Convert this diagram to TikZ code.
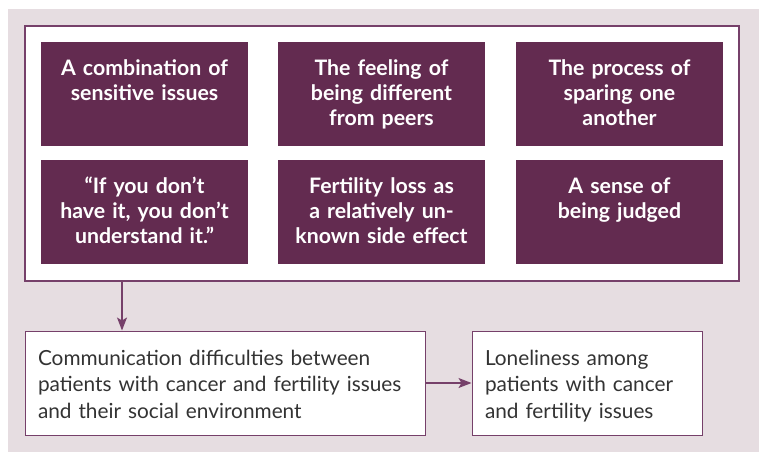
\documentclass[tikz,border=0pt]{standalone}
\usepackage{fontspec}
\setmainfont{Lato}
\usetikzlibrary{arrows.meta}
\definecolor{plum}{HTML}{632B50}
\definecolor{plumLine}{HTML}{76406A}
\definecolor{mist}{HTML}{E6DDE1}
\definecolor{ink}{HTML}{333333}
\begin{document}
\begin{tikzpicture}[x=1pt, y=-1pt,
    themeStyle/.style={rectangle, fill=plum, text=white, font=\fontsize{21.3}{25}\selectfont\bfseries, inner sep=0pt, text width=207pt, align=center, text height=33pt, text depth=71pt},
    outcomeStyle/.style={rectangle, draw=plumLine, fill=white, text=ink, line width=1pt, font=\fontsize{20.8}{26.5}\selectfont, inner xsep=13pt, inner ysep=0pt, align=left, text height=34pt, text depth=70pt},
    flowStyle/.style={draw=plumLine, line width=1.2pt, -{Stealth[length=13pt, width=10pt, inset=3pt]}}]
                    \useasboundingbox (0, 0) rectangle (759, 452);
                    \fill[mist] (8, 9) rectangle (759, 452);
                    \node[draw=plumLine, fill=white, line width=1.2pt, minimum width=714pt, minimum height=255pt, inner sep=0pt](frame) at (382, 153.5) {};

                    \node[themeStyle](theme_0) at (144.5,  94) {A combination of\\sensitive issues};
                    \node[themeStyle](theme_1) at (381.5,  94) {The feeling of\\being different\\from peers};
                    \node[themeStyle](theme_2) at (619.5,  94) {The process of\\sparing one\\another};
                    \node[themeStyle](theme_3) at (144.5, 212) {“If you don’t\\have it, you don’t\\understand it.”};
                    \node[themeStyle](theme_4) at (381.5, 212) {Fertility loss as\\a relatively un-\\known side effect};
                    \node[themeStyle](theme_5) at (619.5, 212) {A sense of\\being judged};

                    \node[outcomeStyle, text width=374pt](comm)   at (225, 383) {Communication difficulties between\\patients with cancer and fertility issues\\and their social environment};
                    \node[outcomeStyle, text width=204pt](lonely) at (587, 383) {Loneliness among\\patients with cancer\\and fertility issues};

                    \coordinate (drop) at (122, 0);
                    \draw[flowStyle] (frame.south -| drop) -- (comm.north -| drop);
                    \draw[flowStyle] (comm.east) -- (lonely.west);
                \end{tikzpicture}
\end{document}
